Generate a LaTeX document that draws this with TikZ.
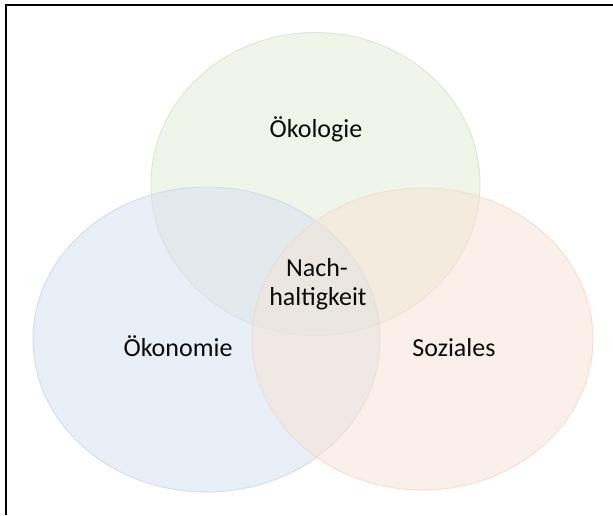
\documentclass[tikz,border=0pt]{standalone}
\usepackage{fontspec}
\setmainfont{Carlito}
\usetikzlibrary{shapes.geometric}
\definecolor{ecoGreen}{RGB}{227,237,214}
\definecolor{ecoBlue}{RGB}{213,224,241}
\definecolor{ecoOrange}{RGB}{247,227,212}
\definecolor{ecoGreenLine}{RGB}{212,224,198}
\definecolor{ecoBlueLine}{RGB}{203,213,230}
\definecolor{ecoOrangeLine}{RGB}{240,218,200}
\definecolor{txt}{RGB}{10,10,10}
\begin{document}
\begin{tikzpicture}[x=1pt,y=-1pt,
  setshape/.style={ellipse, inner sep=0pt, fill opacity=0.5, draw opacity=0.7, line width=1pt},
  lbl/.style={font=\fontsize{26}{30}\selectfont, text=txt, align=center, inner sep=0pt}]
\useasboundingbox (0,0) rectangle (613,515);
\fill[white] (0,0) rectangle (613,515);
\node[setshape, fill=ecoGreen, draw=ecoGreenLine, minimum width=329pt, minimum height=303pt] (oekol) at (315.5,184) {};
\node[setshape, fill=ecoBlue, draw=ecoBlueLine, minimum width=347pt, minimum height=305pt] (oekon) at (206.5,339.5) {};
\node[setshape, fill=ecoOrange, draw=ecoOrangeLine, minimum width=341pt, minimum height=302pt] (soz) at (422.5,339) {};
\coordinate (fa) at (6,515);
\coordinate (fb) at (6,5);
\coordinate (fc) at (613,5);
\draw[line width=2pt, line cap=butt] (fa) -- (fb) -- (fc);
\node[lbl, anchor=base] (t1) at (316,137.5) {Ökologie};
\node[lbl, anchor=base] (t2) at (178,356) {Ökonomie};
\node[lbl, anchor=base] (t3) at (454,356) {Soziales};
\node[lbl, anchor=base] (t4) at (317,276) {Nach-};
\node[lbl, anchor=base] (t5) at (318,305) {haltigkeit};
\end{tikzpicture}
\end{document}
